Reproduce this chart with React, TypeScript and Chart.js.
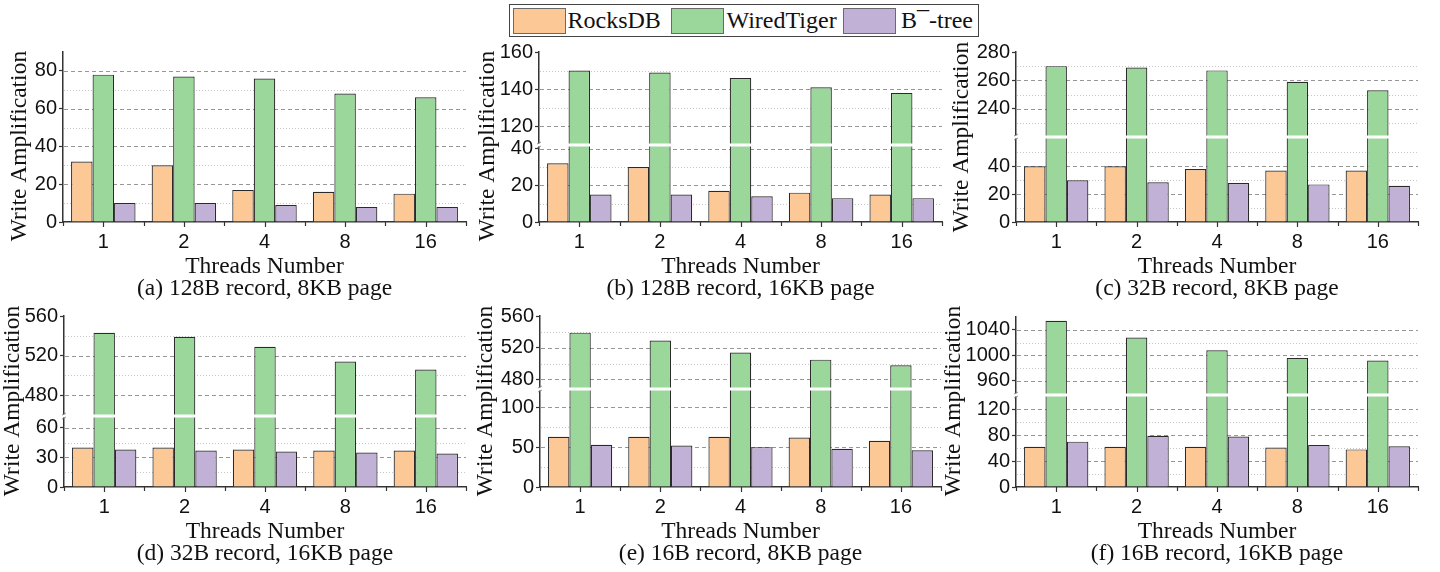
import React, { useEffect, useRef } from 'react';
import { Chart, registerables } from 'chart.js';

Chart.register(...registerables);

// ---------- data ----------
const threads = ['1', '2', '4', '8', '16'];
const seriesLabels = ['RocksDB', 'WiredTiger', 'B¯-tree'];

// (a) 128B record, 8KB page
const rocksA = [32, 30, 17, 16, 15];
const wiredA = [78, 77, 76, 68, 66];
const btreeA = [10, 10, 9, 8, 8];
const rangeA = [0, 90];
const ticksA = [0, 20, 40, 60, 80];
const minorA = [10, 30, 50, 70];

// (b) 128B record, 16KB page
const rocksB = [32, 30, 17, 16, 15];
const wiredB = [150, 149, 146, 141, 138];
const btreeB = [15, 15, 14, 13, 13];
const rangeBLow = [0, 42];
const ticksBLow = [0, 20, 40];
const minorBLow = [10, 30];
const rangeBHigh = [110, 160];
const ticksBHigh = [120, 140, 160];
const minorBHigh = [130, 150];

// (c) 32B record, 8KB page
const rocksC = [40, 40, 38, 37, 37];
const wiredC = [270, 269, 267, 259, 253];
const btreeC = [30, 28.5, 28, 27, 26];
const rangeCLow = [0, 61];
const ticksCLow = [0, 20, 40];
const minorCLow = [10, 30, 50];
const rangeCHigh = [220, 280];
const ticksCHigh = [240, 260, 280];
const minorCHigh = [230, 250, 270];

// (d) 32B record, 16KB page
const rocksD = [40, 40, 38, 37, 37];
const wiredD = [543, 539, 529, 514, 506];
const btreeD = [38, 37, 36, 35, 34];
const rangeDLow = [0, 72];
const ticksDLow = [0, 30, 60];
const minorDLow = [15, 45];
const rangeDHigh = [459, 560];
const ticksDHigh = [480, 520, 560];
const minorDHigh = [500, 540];

// (e) 16B record, 8KB page
const rocksE = [63, 63, 63, 62, 58];
const wiredE = [539, 529, 514, 505, 498];
const btreeE = [53, 52, 50, 48, 46];
const rangeELow = [0, 123];
const ticksELow = [0, 50, 100];
const minorELow = [25, 75];
const rangeEHigh = [468, 560];
const ticksEHigh = [480, 520, 560];
const minorEHigh = [500, 540];

// (f) 16B record, 16KB page
const rocksF = [62, 62, 62, 61, 58];
const wiredF = [1054, 1028, 1008, 996, 992];
const btreeF = [70, 79, 78, 65, 63];
const rangeFLow = [0, 142];
const ticksFLow = [0, 40, 80, 120];
const minorFLow = [20, 60, 100];
const rangeFHigh = [938, 1060];
const ticksFHigh = [960, 1000, 1040];
const minorFHigh = [980, 1020];

const subtitles = [
  '(a) 128B record, 8KB page',
  '(b) 128B record, 16KB page',
  '(c) 32B record, 8KB page',
  '(d) 32B record, 16KB page',
  '(e) 16B record, 8KB page',
  '(f) 16B record, 16KB page',
];

// ---------- style ----------
const FILLS = ['#FCC896', '#9BD69B', '#C2B1D6'];
const EDGE = '#2a2a2a';
const AXIS = '#333333';
const TXT = '#111111';
const SANS = '"Liberation Sans", Arial, sans-serif';
const SERIF = '"Liberation Serif", "Times New Roman", serif';
const TICK_SIZE = 20;

interface Seg { range: number[]; ticks: number[]; minor: number[] }
interface PanelDef {
  title: string;
  rocks: number[];
  wired: number[];
  btree: number[];
  low: Seg;
  high?: Seg;
  box: { left: number; top: number; width: number; height: number };
  area: { l: number; t: number; r: number; b: number; brk?: number };
  yTitle: { x: number; y: number };
}

const ROW1 = { top: 38, height: 264 };
const ROW2 = { top: 300, height: 272 };
const COL1 = { left: 0, width: 476 };
const COL2 = { left: 470, width: 480 };
const COL3 = { left: 935, width: 505 };

const panels: PanelDef[] = [
  {
    title: subtitles[0], rocks: rocksA, wired: wiredA, btree: btreeA,
    low: { range: rangeA, ticks: ticksA, minor: minorA },
    box: { ...COL1, ...ROW1 }, area: { l: 63, t: 52, r: 466, b: 222 }, yTitle: { x: 20, y: 146 },
  },
  {
    title: subtitles[1], rocks: rocksB, wired: wiredB, btree: btreeB,
    low: { range: rangeBLow, ticks: ticksBLow, minor: minorBLow },
    high: { range: rangeBHigh, ticks: ticksBHigh, minor: minorBHigh },
    box: { ...COL2, ...ROW1 }, area: { l: 539, t: 52, r: 942, b: 222, brk: 145 }, yTitle: { x: 488, y: 146 },
  },
  {
    title: subtitles[2], rocks: rocksC, wired: wiredC, btree: btreeC,
    low: { range: rangeCLow, ticks: ticksCLow, minor: minorCLow },
    high: { range: rangeCHigh, ticks: ticksCHigh, minor: minorCHigh },
    box: { ...COL3, ...ROW1 }, area: { l: 1016, t: 52, r: 1418, b: 222, brk: 137 }, yTitle: { x: 962, y: 137 },
  },
  {
    title: subtitles[3], rocks: rocksD, wired: wiredD, btree: btreeD,
    low: { range: rangeDLow, ticks: ticksDLow, minor: minorDLow },
    high: { range: rangeDHigh, ticks: ticksDHigh, minor: minorDHigh },
    box: { ...COL1, ...ROW2 }, area: { l: 64, t: 316, r: 466, b: 487, brk: 416 }, yTitle: { x: 13, y: 401 },
  },
  {
    title: subtitles[4], rocks: rocksE, wired: wiredE, btree: btreeE,
    low: { range: rangeELow, ticks: ticksELow, minor: minorELow },
    high: { range: rangeEHigh, ticks: ticksEHigh, minor: minorEHigh },
    box: { ...COL2, ...ROW2 }, area: { l: 540, t: 316, r: 941, b: 487, brk: 389 }, yTitle: { x: 486, y: 401 },
  },
  {
    title: subtitles[5], rocks: rocksF, wired: wiredF, btree: btreeF,
    low: { range: rangeFLow, ticks: ticksFLow, minor: minorFLow },
    high: { range: rangeFHigh, ticks: ticksFHigh, minor: minorFHigh },
    box: { ...COL3, ...ROW2 }, area: { l: 1016, t: 317, r: 1418, b: 487, brk: 395 }, yTitle: { x: 954, y: 401 },
  },
];

function makeConfig(p: PanelDef): any {
  const { box, area } = p;
  const xH = 30;
  const yW = area.l - box.left;
  const padTop = area.t - box.top;
  const padRight = box.left + box.width - area.r;
  const padBottom = box.height - (area.b - box.top) - xH;
  const broken = !!p.high;

  const barCommon = {
    borderColor: EDGE,
    borderWidth: 1.2,
    borderSkipped: 'start',
    barPercentage: 1,
    categoryPercentage: 0.8,
  };
  const datasets: any[] = [
    { label: seriesLabels[0], data: p.rocks, backgroundColor: FILLS[0], stack: 's0', yAxisID: 'yLow', ...barCommon },
    { label: seriesLabels[1], data: p.wired, backgroundColor: FILLS[1], stack: 's1', yAxisID: 'yLow', ...barCommon },
    { label: seriesLabels[2], data: p.btree, backgroundColor: FILLS[2], stack: 's2', yAxisID: 'yLow', ...barCommon },
  ];
  if (broken) {
    datasets.push({ label: seriesLabels[1], data: p.wired, backgroundColor: FILLS[1], stack: 's1', yAxisID: 'yHigh', ...barCommon });
  }

  const yScale = (seg: Seg, weight: number) => ({
    type: 'linear',
    position: 'left',
    stack: broken ? 'v' : undefined,
    stackWeight: weight,
    stacked: false,
    min: seg.range[0],
    max: seg.range[1],
    afterBuildTicks: (s: any) => { s.ticks = seg.ticks.map((v) => ({ value: v })); },
    afterFit: (s: any) => { s.width = yW; },
    ticks: { autoSkip: false, padding: 2, color: TXT, font: { family: SANS, size: TICK_SIZE }, callback: (v: any) => String(v) },
    grid: { display: true, drawOnChartArea: false, drawTicks: true, tickLength: 4, tickColor: AXIS, tickWidth: 1.2 },
    border: { display: true, color: AXIS, width: 1.5 },
  });

  const scales: any = {
    x: {
      type: 'category',
      offset: true,
      grid: { display: false, drawTicks: false },
      border: { display: true, color: AXIS, width: 1.5 },
      ticks: { color: TXT, font: { family: SANS, size: TICK_SIZE }, padding: 8, autoSkip: false, maxRotation: 0 },
      afterFit: (s: any) => { s.height = xH; },
    },
  };
  if (broken) {
    scales.yLow = yScale(p.low, area.b - (area.brk as number));
    scales.yHigh = yScale(p.high as Seg, (area.brk as number) - area.t);
  } else {
    scales.yLow = yScale(p.low, 1);
  }

  const segs: [string, Seg][] = [['yLow', p.low]];
  if (p.high) segs.push(['yHigh', p.high]);

  const panelPlugin = {
    id: 'panelDecor',
    beforeDatasetsDraw(chart: any) {
      const ctx = chart.ctx;
      const a = chart.chartArea;
      ctx.save();
      ctx.lineWidth = 1;
      for (const [id, seg] of segs) {
        const s = chart.scales[id];
        const line = (v: number, major: boolean) => {
          if (v <= seg.range[0] || v >= seg.range[1]) return;
          const y = Math.round(s.getPixelForValue(v)) + 0.5;
          ctx.beginPath();
          ctx.setLineDash(major ? [4, 3] : [1, 2]);
          ctx.strokeStyle = major ? '#969696' : '#c6c6c6';
          ctx.moveTo(a.left + 1, y);
          ctx.lineTo(a.right, y);
          ctx.stroke();
        };
        seg.ticks.forEach((v) => line(v, true));
        seg.minor.forEach((v) => line(v, false));
      }
      ctx.restore();
    },
    beforeDatasetDraw(chart: any, args: any) {
      const ctx = chart.ctx;
      const a = chart.chartArea;
      const ys = args.meta.yScale;
      ctx.save();
      ctx.beginPath();
      ctx.rect(a.left, ys.top, a.right - a.left, ys.bottom - ys.top);
      ctx.clip();
    },
    afterDatasetDraw(chart: any) {
      chart.ctx.restore();
    },
    afterDatasetsDraw(chart: any) {
      if (!broken) return;
      const ctx = chart.ctx;
      const a = chart.chartArea;
      const y = chart.scales.yLow.top;
      ctx.save();
      ctx.fillStyle = '#ffffff';
      ctx.fillRect(a.left + 1, y - 1.5, a.right - a.left - 1, 3);
      ctx.restore();
    },
    afterDraw(chart: any) {
      const ctx = chart.ctx;
      const a = chart.chartArea;
      const xs = chart.scales.x;
      const axisY = xs.top;
      ctx.save();
      // x-axis tick marks: centres and category boundaries
      ctx.strokeStyle = AXIS;
      ctx.lineWidth = 1.2;
      const n = threads.length;
      const px = (i: number) => xs.getPixelForValue(i);
      for (let i = 0; i < n; i++) {
        const cx = Math.round(px(i)) + 0.5;
        ctx.beginPath(); ctx.moveTo(cx, axisY); ctx.lineTo(cx, axisY + 5); ctx.stroke();
      }
      for (let i = 0; i <= n; i++) {
        const bx = i === 0 ? a.left : i === n ? a.right : (px(i - 1) + px(i)) / 2;
        const x = Math.round(bx) + 0.5;
        ctx.beginPath(); ctx.moveTo(x, axisY); ctx.lineTo(x, axisY + 4); ctx.stroke();
      }
      // axis break marks
      if (broken) {
        const y = chart.scales.yLow.top;
        ctx.fillStyle = '#ffffff';
        ctx.fillRect(a.left - 2, y - 1.5, 4, 3);
        ctx.strokeStyle = '#777';
        ctx.lineWidth = 0.8;
        ctx.beginPath(); ctx.moveTo(a.left - 2, y - 1); ctx.lineTo(a.left + 2, y - 3); ctx.stroke();
        ctx.beginPath(); ctx.moveTo(a.left - 2, y + 3); ctx.lineTo(a.left + 2, y + 1); ctx.stroke();
      }
      // titles
      ctx.fillStyle = TXT;
      ctx.font = `23.5px ${SERIF}`;
      ctx.textAlign = 'center';
      ctx.textBaseline = 'alphabetic';
      const cx = (a.left + a.right) / 2;
      ctx.fillText('Threads Number', cx, a.bottom + 51);
      ctx.fillText(p.title, cx, a.bottom + 73);
      ctx.translate(p.yTitle.x - box.left, p.yTitle.y - box.top);
      ctx.rotate(-Math.PI / 2);
      ctx.textBaseline = 'middle';
      ctx.fillText('Write Amplification', 0, 0);
      ctx.restore();
    },
  };

  return {
    type: 'bar',
    data: { labels: threads, datasets },
    options: {
      animation: false,
      responsive: false,
      maintainAspectRatio: false,
      devicePixelRatio: 1,
      layout: { padding: { left: 0, top: padTop, right: padRight, bottom: padBottom } },
      plugins: { legend: { display: false }, tooltip: { enabled: false }, title: { display: false } },
      scales,
    },
    plugins: [panelPlugin],
  };
}

function PanelChart({ p }: { p: PanelDef }) {
  const ref = useRef<HTMLCanvasElement | null>(null);
  useEffect(() => {
    if (!ref.current) return;
    const chart = new Chart(ref.current, makeConfig(p));
    return () => chart.destroy();
  }, [p]);
  return (
    <canvas
      ref={ref}
      width={p.box.width}
      height={p.box.height}
      style={{ position: 'absolute', left: p.box.left, top: p.box.top, width: p.box.width, height: p.box.height }}
    />
  );
}

function Legend() {
  const sw = (left: number, color: string) => (
    <div style={{ position: 'absolute', left, top: 2.5, width: 53, height: 26, background: color, border: '1px solid #6a6a6a', boxSizing: 'border-box' }} />
  );
  const tx = (left: number, text: string) => (
    <span style={{ position: 'absolute', left, top: 3, fontFamily: SERIF, fontSize: 24, lineHeight: '24px', color: TXT, whiteSpace: 'nowrap' }}>{text}</span>
  );
  return (
    <div style={{ position: 'absolute', left: 509, top: 4, width: 470, height: 33, border: '1.5px solid #444', boxSizing: 'border-box', background: '#fff' }}>
      {sw(2.5, FILLS[0])}
      {tx(57.5, seriesLabels[0])}
      {sw(160.5, FILLS[1])}
      {tx(216.5, seriesLabels[1])}
      {sw(332.5, FILLS[2])}
      {tx(391, seriesLabels[2])}
    </div>
  );
}

export default function App() {
  return (
    <div style={{ position: 'absolute', left: 0, top: 0, width: 1440, height: 572, overflow: 'hidden', background: '#fff' }}>
      {panels.map((p, i) => <PanelChart key={i} p={p} />)}
      <Legend />
    </div>
  );
}
